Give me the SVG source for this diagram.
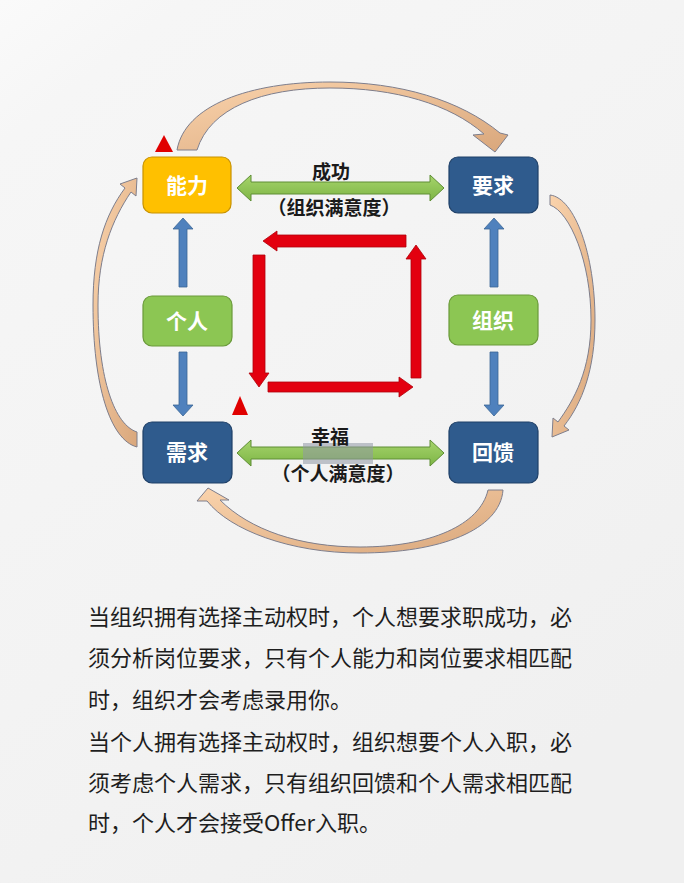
<svg xmlns="http://www.w3.org/2000/svg" width="684" height="883" viewBox="0 0 684 883">
<defs>
<linearGradient id="bg" x1="0" y1="0" x2="0.6" y2="1">
<stop offset="0" stop-color="#FAFAFA"/>
<stop offset="0.12" stop-color="#F6F6F6"/>
<stop offset="0.6" stop-color="#F3F3F3"/>
<stop offset="1" stop-color="#F0F0F0"/>
</linearGradient>
<linearGradient id="peach" x1="0" y1="0" x2="1" y2="1">
<stop offset="0" stop-color="#FAD3AC"/>
<stop offset="1" stop-color="#D9A77C"/>
</linearGradient>
<linearGradient id="grn" x1="0" y1="0" x2="0" y2="1">
<stop offset="0" stop-color="#A6D46C"/>
<stop offset="1" stop-color="#7DB545"/>
</linearGradient>
<style>
.node rect{stroke-width:1.2}
.blue rect{fill:#2F5B8D;stroke:#1F4068}
.green rect{fill:#8CC653;stroke:#6A9A3A}
.nl{font-family:"Noto Sans CJK SC","Noto Sans",sans-serif;font-size:21px;font-weight:700;fill:#FFFFFF;text-anchor:middle}
.lbl{font-family:"Noto Sans CJK SC","Noto Sans",sans-serif;font-weight:700;fill:#1A1A1A;text-anchor:middle}
.body{font-family:"Noto Sans CJK SC","Noto Sans",sans-serif;font-size:22px;fill:#1E1E1E}
.curve{fill:url(#peach);stroke:#7E7E8C;stroke-width:1}
.garrow{fill:url(#grn);stroke:#5E8E34;stroke-width:1}
.barrow{fill:#4F81BD;stroke:#3A6696;stroke-width:0.8}
.rarrow{fill:#E3000F;stroke:#B0000A;stroke-width:0.8}
.tri{fill:#E00000}
</style>
</defs>
<rect x="0" y="0" width="684" height="883" fill="url(#bg)"/>

<g id="connectors">
<path class="curve" d="M177,150 C185,105 250,82 330,82 C400,82 460,100 500,133 L508,135 L495,152 L473,135 L484,134 C450,104 395,88 330,88 C262,88 210,108 197,150 Z"/>
<path class="curve" d="M550,195 C575,198 595,255 595,320 C595,370 582,403 564,426 L569,430 L552,437 L553,418 L558,422 C574,400 591,370 591,320 C591,262 570,212 550,205 Z"/>
<path class="curve" d="M503,490 C500,530 440,553 360,553 C290,553 230,530 207,501 L197,501 L208,488 L229,500 L220,500 C250,530 300,547 360,547 C430,547 480,525 488,490 Z"/>
<path class="curve" d="M137,447 C110,440 93,385 93,305 C93,250 105,215 125,188 L120,184 L137,178 L136,196 L131,192 C112,220 98,255 98,305 C98,380 115,425 137,432 Z"/>

<path class="garrow" d="M237,188 L251,175 L251,182 L430,182 L430,175 L444,188 L430,201 L430,194 L251,194 L251,201 Z"/>
<path class="garrow" d="M237,453 L251,440 L251,447 L430,447 L430,440 L444,453 L430,466 L430,459 L251,459 L251,466 Z"/>

<path class="barrow" d="M179,287 L179,229 L173,229 L183,218 L193,229 L187,229 L187,287 Z"/>
<path class="barrow" d="M179,352 L179,405 L173,405 L183,416 L193,405 L187,405 L187,352 Z"/>
<path class="barrow" d="M490,287 L490,229 L484,229 L494,218 L504,229 L498,229 L498,287 Z"/>
<path class="barrow" d="M490,352 L490,405 L484,405 L494,416 L504,405 L498,405 L498,352 Z"/>

<path class="rarrow" d="M406,235 L277,235 L277,231 L263,241 L277,251 L277,247 L406,247 Z"/>
<path class="rarrow" d="M253,255 L253,373 L249,373 L259,387 L269,373 L265,373 L265,255 Z"/>
<path class="rarrow" d="M268,382 L399,382 L399,377 L413,387 L399,397 L399,392 L268,392 Z"/>
<path class="rarrow" d="M411,378 L411,259 L406,259 L416,245 L426,259 L421,259 L421,378 Z"/>
</g>

<polygon class="tri" points="164,135 155,152 173,152"/>
<polygon class="tri" points="240,396 232,415 248,415"/>

<rect x="303" y="443" width="70" height="21" fill="#8F97A4" opacity="0.55"/>

<g id="labels">
<text class="lbl" x="331" y="179" font-size="19">成功</text>
<text class="lbl" x="334" y="215" font-size="19">（组织满意度）</text>
<text class="lbl" x="330" y="444" font-size="19">幸福</text>
<text class="lbl" x="338" y="481" font-size="19">（个人满意度）</text>
</g>

<g id="node-nengli" class="node"><rect x="143" y="157" width="88" height="56" rx="9" fill="#FFC000" stroke="#C89200"/><text class="nl" x="187" y="193">能力</text></g>
<g id="node-yaoqiu" class="node blue"><rect x="449" y="157" width="89" height="56" rx="9"/><text class="nl" x="493" y="193">要求</text></g>
<g id="node-geren" class="node green"><rect x="143" y="296" width="89" height="50" rx="9"/><text class="nl" x="187" y="329">个人</text></g>
<g id="node-zuzhi" class="node green"><rect x="449" y="295" width="89" height="50" rx="9"/><text class="nl" x="493" y="328">组织</text></g>
<g id="node-xuqiu" class="node blue"><rect x="143" y="422" width="89" height="61" rx="9"/><text class="nl" x="187" y="460">需求</text></g>
<g id="node-huikui" class="node blue"><rect x="449" y="422" width="89" height="61" rx="9"/><text class="nl" x="493" y="460">回馈</text></g>

<g id="caption">
<text class="body" x="88" y="625">当组织拥有选择主动权时，个人想要求职成功，必</text>
<text class="body" x="88" y="666">须分析岗位要求，只有个人能力和岗位要求相匹配</text>
<text class="body" x="88" y="708">时，组织才会考虑录用你。</text>
<text class="body" x="88" y="750">当个人拥有选择主动权时，组织想要个人入职，必</text>
<text class="body" x="88" y="791">须考虑个人需求，只有组织回馈和个人需求相匹配</text>
<text class="body" x="88" y="831">时，个人才会接受Offer入职。</text>
</g>
</svg>
